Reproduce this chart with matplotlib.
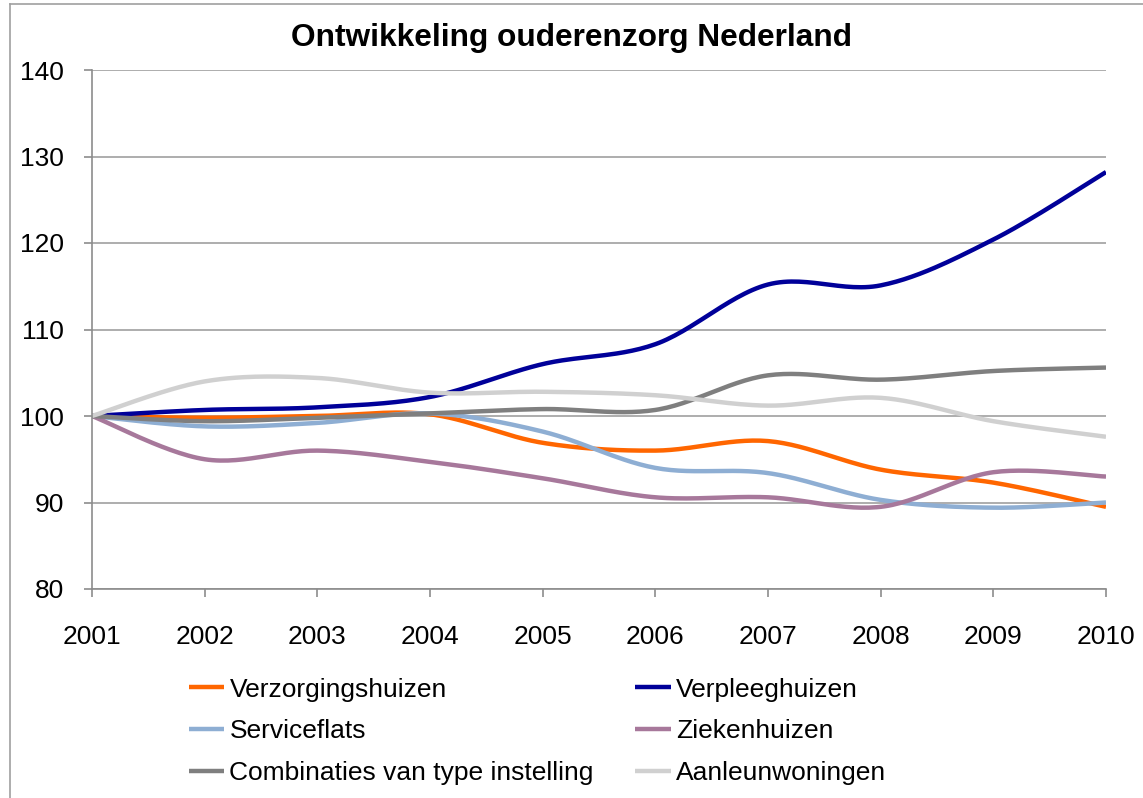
import numpy as np
import matplotlib
matplotlib.use("Agg")
import matplotlib.pyplot as plt
from matplotlib.lines import Line2D

years = [2001, 2002, 2003, 2004, 2005, 2006, 2007, 2008, 2009, 2010]
verzorgingshuizen = [100, 99.8, 100.0, 100.2, 96.9, 96.0, 97.1, 93.8, 92.3, 89.5]
verpleeghuizen = [100, 100.7, 101.0, 102.2, 106.0, 108.3, 115.2, 115.1, 120.4, 128.2]
serviceflats = [100, 98.8, 99.2, 100.3, 98.2, 94.0, 93.4, 90.3, 89.4, 90.0]
ziekenhuizen = [100, 95.0, 96.0, 94.7, 92.8, 90.6, 90.6, 89.5, 93.5, 93.0]
combinaties = [100, 99.4, 99.8, 100.3, 100.8, 100.7, 104.7, 104.2, 105.2, 105.6]
aanleunwoningen = [100, 104.0, 104.4, 102.7, 102.8, 102.4, 101.2, 102.1, 99.4, 97.6]

series_names = ["Verzorgingshuizen", "Verpleeghuizen", "Serviceflats",
                "Ziekenhuizen", "Combinaties van type instelling", "Aanleunwoningen"]
series_values = [verzorgingshuizen, verpleeghuizen, serviceflats,
                 ziekenhuizen, combinaties, aanleunwoningen]
colors = ["#FF6600", "#000099", "#8EAED3", "#A7789B", "#7F7F7F", "#D0D0D0"]
y_ticks = [80, 90, 100, 110, 120, 130, 140]
title = "Ontwikkeling ouderenzorg Nederland"

FONT = ["Liberation Sans", "DejaVu Sans"]
plt.rcParams["font.family"] = FONT


def smooth(x, y, n=30):
    """Excel-like smoothed line: Catmull-Rom style cubic Bezier through the points."""
    x = np.asarray(x, float)
    y = np.asarray(y, float)
    px = np.concatenate([[x[0]], x, [x[-1]]])
    py = np.concatenate([[y[0]], y, [y[-1]]])
    xs, ys = [], []
    t = np.linspace(0, 1, n)
    for i in range(1, len(px) - 2):
        p0 = np.array([px[i], py[i]])
        p3 = np.array([px[i + 1], py[i + 1]])
        p1 = p0 + (np.array([px[i + 1], py[i + 1]]) - np.array([px[i - 1], py[i - 1]])) / 6
        p2 = p3 - (np.array([px[i + 2], py[i + 2]]) - np.array([px[i], py[i]])) / 6
        b = ((1 - t) ** 3)[:, None] * p0 + (3 * (1 - t) ** 2 * t)[:, None] * p1 \
            + (3 * (1 - t) * t ** 2)[:, None] * p2 + (t ** 3)[:, None] * p3
        xs.append(b[:, 0])
        ys.append(b[:, 1])
    return np.concatenate(xs), np.concatenate(ys)


fig = plt.figure(figsize=(11.43, 7.98), dpi=100)
ax = fig.add_axes([92 / 1143, 1 - 589 / 798, (1106 - 92) / 1143, (589 - 70) / 798])

for name, vals, c in zip(series_names, series_values, colors):
    sx, sy = smooth(years, vals)
    ax.plot(sx, sy, color=c, lw=3.2, solid_capstyle="butt", label=name)

ax.set_xlim(years[0], years[-1])
ax.set_ylim(y_ticks[0], y_ticks[-1])
ax.set_yticks(y_ticks)
ax.set_xticks(years)
ax.set_xticklabels([str(y) for y in years])
ax.grid(axis="y", color="#A0A0A0", lw=1.2)
ax.set_axisbelow(True)
for s in ["top", "right"]:
    ax.spines[s].set_visible(False)
for s in ["left", "bottom"]:
    ax.spines[s].set_color("#8C8C8C")
    ax.spines[s].set_linewidth(1.2)
ax.tick_params(axis="both", direction="out", length=6, width=1.2, color="#8C8C8C",
               labelsize=19)
ax.tick_params(axis="y", pad=14)
ax.tick_params(axis="x", pad=20)

fig.text(0.5, 1 - 38 / 798, title, ha="center", va="center", fontsize=22.8,
         fontweight="bold")

# chart border (top and left visible)
fig.add_artist(Line2D([10 / 1143, 10 / 1143], [0, 1 - 4 / 798], color="#A0A0A0", lw=1.2))
fig.add_artist(Line2D([10 / 1143, 1], [1 - 4 / 798, 1 - 4 / 798], color="#A0A0A0", lw=1.2))

handles = ax.get_lines()
order = [0, 2, 4, 1, 3, 5]
leg = fig.legend([handles[i] for i in order], [series_names[i] for i in order],
                 ncol=2, loc="upper left", bbox_to_anchor=(178 / 1143, 1 - 667 / 798),
                 frameon=False, fontsize=19, handlelength=1.35, handletextpad=0.2,
                 columnspacing=1.57, labelspacing=0.68, borderaxespad=0)

fig.savefig("out.png", dpi=100)
